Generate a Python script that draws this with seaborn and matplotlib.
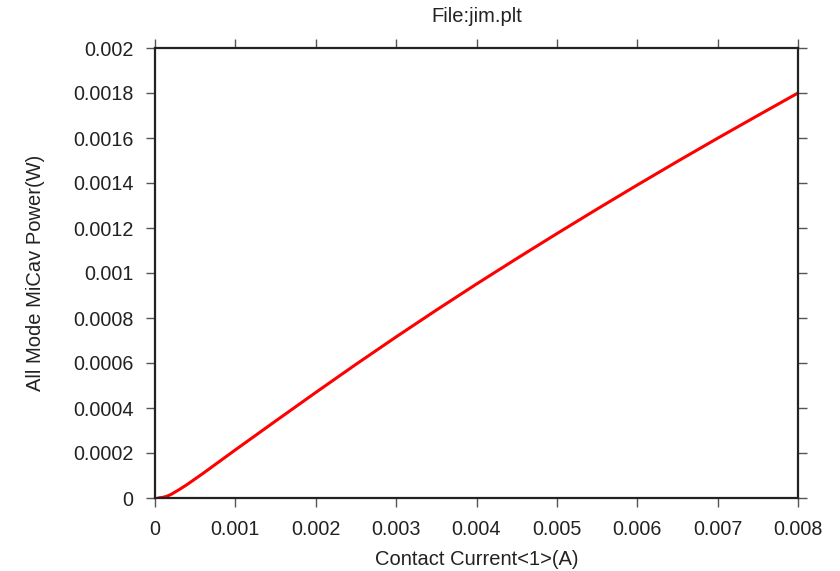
import matplotlib
matplotlib.use("Agg")
import matplotlib.pyplot as plt
import seaborn as sns
import pandas as pd

# Contact current (A) and total microcavity power (W)
current = [0.00004, 0.0001, 0.00015, 0.0002, 0.0003, 0.0004, 0.0006, 0.0008,
           0.001, 0.0015, 0.002, 0.0025, 0.003, 0.0035, 0.004, 0.0045,
           0.005, 0.0055, 0.006, 0.0065, 0.007, 0.0075, 0.008]
power = [0.0, 0.000003, 0.000008, 0.000016, 0.000037, 0.000060, 0.000110,
         0.000162, 0.000214, 0.000342, 0.000469, 0.000594, 0.000716,
         0.000835, 0.000951, 0.001064, 0.001175, 0.001284, 0.001391,
         0.001496, 0.001599, 0.0017, 0.0018]

x_ticks = [0, 0.001, 0.002, 0.003, 0.004, 0.005, 0.006, 0.007, 0.008]
x_tick_labels = ["0", "0.001", "0.002", "0.003", "0.004", "0.005", "0.006",
                 "0.007", "0.008"]
y_ticks = [0, 0.0002, 0.0004, 0.0006, 0.0008, 0.001, 0.0012, 0.0014,
           0.0016, 0.0018, 0.002]
y_tick_labels = ["0", "0.0002", "0.0004", "0.0006", "0.0008", "0.001",
                 "0.0012", "0.0014", "0.0016", "0.0018", "0.002"]

sns.set_theme(style="white")
plt.rcParams["font.family"] = ["Liberation Sans", "DejaVu Sans"]

df = pd.DataFrame({"current": current, "power": power})

fig = plt.figure(figsize=(8.4, 5.71), dpi=100)
ax = fig.add_axes([155 / 840, 73 / 571, 643 / 840, 450 / 571])

sns.lineplot(data=df, x="current", y="power", ax=ax, color="#ff0000",
             linewidth=2.2)

ax.set_xlim(0, 0.008)
ax.set_ylim(0, 0.002)
ax.set_xticks(x_ticks)
ax.set_xticklabels(x_tick_labels)
ax.set_yticks(y_ticks)
ax.set_yticklabels(y_tick_labels)

for side in ["left", "right", "top", "bottom"]:
    ax.spines[side].set_visible(True)
    ax.spines[side].set_color("#222222")
    ax.spines[side].set_linewidth(1.6)

ax.tick_params(axis="both", which="major", direction="out", length=6.2,
               width=1.0, color="#555555", labelsize=14.2, labelcolor="#222222",
               top=True, right=True, bottom=True, left=True,
               labeltop=False, labelright=False)
ax.tick_params(axis="x", pad=9.5)
ax.tick_params(axis="y", pad=9.4)

ax.set_xlabel("Contact Current<1>(A)", fontsize=14.5, color="#222222",
              labelpad=8)
ax.set_ylabel("All Mode MiCav Power(W)", fontsize=14.5, color="#222222",
              labelpad=20)
ax.set_title("File:jim.plt", fontsize=14.5, color="#222222", pad=18.5)

fig.savefig("out.png", dpi=100)
